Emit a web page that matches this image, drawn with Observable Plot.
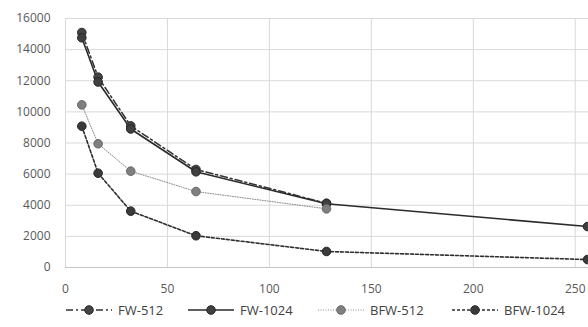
<!DOCTYPE html>
<html><head><meta charset="utf-8">
<script src="https://cdn.jsdelivr.net/npm/d3@7"></script>
<script src="https://cdn.jsdelivr.net/npm/@observablehq/plot@0.6"></script>
<style>
body{margin:0;background:#fff;font-family:"Open Sans",sans-serif;}
#legend{height:32px;font-size:13px;color:#404040;position:relative;}
.item{position:absolute;display:flex;align-items:center;top:6px}
</style></head><body>
<div id="chart"></div>
<div id="legend"></div>
<script>
const xFW512 = [8, 16, 32, 64, 128];
const yFW512 = [15100, 12230, 9100, 6300, 4130];
const xFW1024 = [8, 16, 32, 64, 128, 256];
const yFW1024 = [14760, 11920, 8900, 6150, 4100, 2630];
const xBFW512 = [8, 16, 32, 64, 128];
const yBFW512 = [10450, 7950, 6190, 4880, 3770];
const xBFW1024 = [8, 16, 32, 64, 128, 256];
const yBFW1024 = [9080, 6060, 3620, 2040, 1030, 510];
const xTicks = [0, 50, 100, 150, 200, 250];
const yTicks = [0, 2000, 4000, 6000, 8000, 10000, 12000, 14000, 16000];

const series = [
  {name: "FW-512", xs: xFW512, ys: yFW512, stroke: "#333", dash: "7,3,2,3", width: 1.5, fill: "#444", dstroke: "#2a2a2a"},
  {name: "FW-1024", xs: xFW1024, ys: yFW1024, stroke: "#2a2a2a", dash: null, width: 1.6, fill: "#404040", dstroke: "#262626"},
  {name: "BFW-512", xs: xBFW512, ys: yBFW512, stroke: "#8a8a8a", dash: "1,1.5", width: 1, fill: "#7f7f7f", dstroke: "#666"},
  {name: "BFW-1024", xs: xBFW1024, ys: yBFW1024, stroke: "#2e2e2e", dash: "3,2", width: 1.6, fill: "#3a3a3a", dstroke: "#262626"}
];
const toRows = s => s.xs.map((x, i) => ({x, y: s.ys[i], name: s.name}));

const marks = [
  Plot.gridX(xTicks, {stroke: "#d9d9d9", strokeOpacity: 1, strokeWidth: 1}),
  Plot.gridY(yTicks, {stroke: "#d9d9d9", strokeOpacity: 1, strokeWidth: 1}),
  Plot.ruleY([0], {stroke: "#c4c4c4", strokeWidth: 1}),
  Plot.axisX(xTicks, {tickSize: 0, tickPadding: 17, fontSize: 12, fill: "#595959", label: null}),
  Plot.axisY(yTicks, {tickSize: 0, tickPadding: 15, fontSize: 12, fill: "#595959", label: null, tickFormat: d => String(d)})
];
for (const s of series) {
  marks.push(Plot.line(toRows(s), {x: "x", y: "y", stroke: s.stroke, strokeWidth: s.width, strokeDasharray: s.dash || undefined}));
}
for (const s of series) {
  marks.push(Plot.dot(toRows(s), {x: "x", y: "y", r: 4.3, fill: s.fill, stroke: s.dstroke, strokeWidth: 1}));
}

const chart = Plot.plot({
  width: 588, height: 295,
  marginLeft: 65, marginRight: 0, marginTop: 18, marginBottom: 28,
  style: {fontFamily: "'Open Sans', sans-serif", background: "#fff", overflow: "visible"},
  x: {domain: [0, 256.5], axis: null, label: null},
  y: {domain: [0, 16000], axis: null, label: null},
  marks
});
document.getElementById("chart").appendChild(chart);

const legend = document.getElementById("legend");
const lx = [66, 188, 318, 452];
series.forEach((s, i) => {
  const it = document.createElement("div");
  it.className = "item";
  it.style.left = lx[i] + "px";
  const svgNS = "http://www.w3.org/2000/svg";
  const sv = document.createElementNS(svgNS, "svg");
  sv.setAttribute("width", 47); sv.setAttribute("height", 14);
  const ln = document.createElementNS(svgNS, "line");
  ln.setAttribute("x1", 0); ln.setAttribute("x2", 46); ln.setAttribute("y1", 7); ln.setAttribute("y2", 7);
  ln.setAttribute("stroke", s.stroke); ln.setAttribute("stroke-width", s.width);
  if (s.dash) ln.setAttribute("stroke-dasharray", s.dash);
  const c = document.createElementNS(svgNS, "circle");
  c.setAttribute("cx", 23); c.setAttribute("cy", 7); c.setAttribute("r", 4.3);
  c.setAttribute("fill", s.fill); c.setAttribute("stroke", s.dstroke);
  sv.appendChild(ln); sv.appendChild(c);
  const t = document.createElement("span");
  t.textContent = s.name; t.style.marginLeft = "5px";
  it.appendChild(sv); it.appendChild(t);
  legend.appendChild(it);
});
</script>
</body></html>
